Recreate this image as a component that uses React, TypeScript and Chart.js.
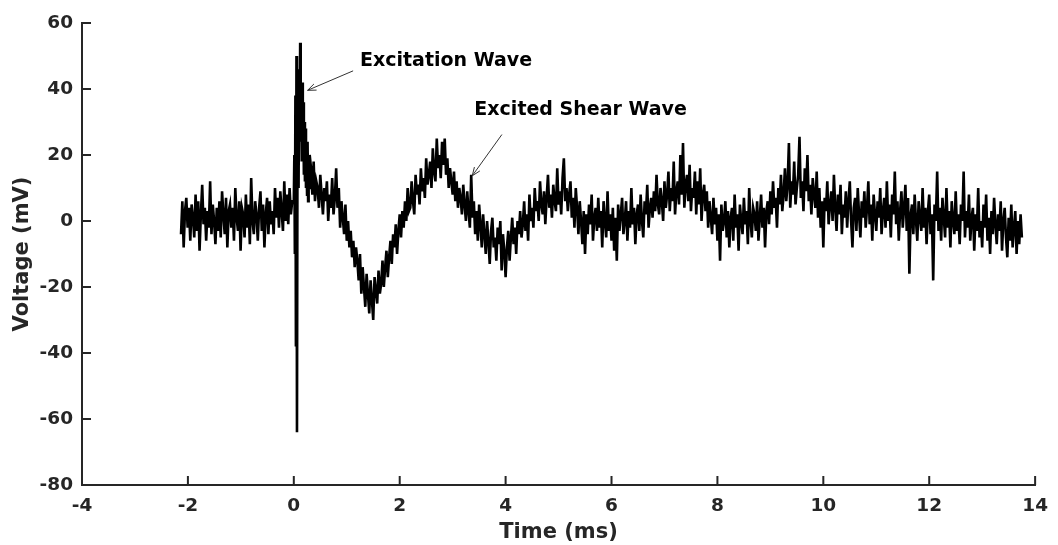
import React, { useEffect, useRef } from "react";
import { Chart, registerables } from "chart.js";

Chart.register(...registerables);

// ---- data (ms, mV) ----
const BASELINE_START = -2.13;
const BASELINE_STEP = 0.025;
const BASELINE = [
  -4, 6, -8, 3, 7, -2, 4, -6, 5, 1,
  -5, 8, -3, 6, -9, 2, 11, -1, 4, -6,
  3, -2, 12, -4, 5, 0, -7, 4, -3, 6,
  -5, 9, 2, -4, 7, -8, 3, 5, -2, 4,
  -6, 10, 1, -3, 6, -9, 4, 2, -5, 8,
  -2, 5, -7, 13, 0, -4, 6, 2, -6, 4,
  9, -3, 5, -8, 2, 7, -4, 6, -1, 3,
  -4, 10, 1, 7, -2, 9, 3, -3, 12, 0,
  8, -1, 10, 2, 6,
];

const EXCITATION_START = 0.0;
const EXCITATION_STEP = 0.01;
const EXCITATION = [
  6, 20, -10, 38, -38, 50, -64, 30, 44, 10,
  46, 24, 54, 28, 40, 18, 42, 20, 36, 14,
  30, 12, 28, 10, 22, 8, 24, 6, 18, 10,
  20,
];

const SHEAR_START = 0.325;
const SHEAR_STEP = 0.025;
const SHEAR = [
  16, 8, 18, 6, 12, 10, 4, 14, 8, 2,
  10, 6, 12, 0, 8, 4, 13, 2, 7, 16,
  4, 10, -2, 6, 1, -4, 5, -6, 0, -8,
  -3, -11, -6, -14, -8, -12, -18, -10, -22, -14,
  -20, -26, -16, -22, -28, -18, -24, -30, -17, -21,
  -25, -15, -22, -19, -12, -20, -14, -9, -17, -11,
  -6, -13, -4, -8, -1, -10, -3, 2, -5, 3,
  -2, 6, 0, 10, 3, 4, 12, 6, 2, 14,
  8, 11, 5, 16, 9, 13, 7, 19, 11, 14,
  18, 10, 22, 15, 12, 25, 16, 20, 13, 24,
  17, 25, 14, 19, 10, 16, 12, 8, 15, 6,
  12, 4, 10, 7, 2, 11, 5, 0, 9, 3,
  -2, 14, 1, 6, -4, 3, -6, 5, -1, -8,
  2, -4, -10, 0, -6, -13, -3, 1, -8, -5,
  -12, -2, -7, 0, -15, -4, -9, -17,
];

const TAIL_START = 4.025;
const TAIL_STEP = 0.025;
const TAIL = [
  -8, -3, -12, -5, 1, -7, -2, -10, 0, -4,
  3, -5, -1, 6, -3, 2, -6, 8, 0, 4,
  -2, 10, 3, 6, 0, 12, 5, 2, 9, -1,
  7, 14, 4, 8, 1, 11, 6, 3, 16, 5,
  9, 2, 13, 19, 6, 10, 3, 8, 12, 1,
  7, -2, 10, 4, -4, 6, 0, -7, 3, -10,
  2, -4, 5, -1, 8, -6, 1, 4, -3, 7,
  -2, 3, -8, 6, 0, -5, 9, -3, 2, -6,
  4, -9, 1, -12, 5, -3, 2, 7, -4, 0,
  6, -6, 3, -2, 10, -1, 4, -7, 2, 5,
  -3, 8, 0, -5, 6, 2, 11, -2, 4, 7,
  1, 9, 3, 14, 5, 2, 10, 6, 0, 12,
  4, 8, 15, 3, 10, 6, 18, 2, 9, 12,
  5, 20, 8, 23.6, 4, 11, 14, 6, 17, 3,
  10, 7, 15, 2, 12, 5, 16, 0, 8, 11,
  3, 9, -2, 6, 1, -4, 7, -1, 4, -6,
  2, -12, 5, -3, 0, 6, -5, 3, -8, 1,
  4, -6, 8, -2, 2, -9, 5, 0, -4, 7,
  -1, 3, -7, 10, 0, -5, 4, 2, -3, 6,
  -6, 1, 8, -2, 4, -8, 3, 6, -1, 9,
  2, 12, 4, 7, -2, 10, 5, 14, 3, 8,
  16, 6, 11, 23.6, 4, 12, 8, 18, 5, 10,
  14, 25.5, 7, 12, 3, 16, 9, 20, 6, 11,
  2, 13, 8, 4, 15, 1, 10, -2, 6, -8,
  7, 3, 12, -1, 5, 9, 0, 14, 4, -3,
  8, 2, 11, -4, 5, 1, 9, -2, 6, 12,
  0, -8, 4, 7, -3, 10, 2, -5, 6, 1,
  9, -2, 4, 12, -1, 5, -6, 8, 2, -3,
  6, 1, 10, -4, 3, 7, -2, 12, 0, 5,
  -5, 8, 2, 15, -1, 6, -6, 3, 9, -2,
  4, 11, -3, 7, -16, 2, 5, -4, 8, 0,
  -6, 6, 1, -3, 10, -2, 4, -7, 3, 8,
  -4, 2, -18, 5, 0, 15, -3, 4, -6, 7,
  1, -5, 10, -2, 3, -8, 6, 0, -4, 9,
  -3, 2, -7, 5, 0, 15, -5, 3, -2, 8,
  -6, 1, 4, -9, 2, -3, 10, -5, 0, -8,
  5, -2, 8, -6, 1, -10, 3, -4, 7, -1,
  -7, 2, -3, 6, -9, 0, 4, -5, -11, 1,
  -6, 5, -8, -2, 3, -10, 0, -7, 2, -5,
];

const X_MIN = -4;
const X_MAX = 14;
const X_STEP = 2;
const Y_MIN = -80;
const Y_MAX = 60;
const Y_STEP = 20;

const X_TITLE = "Time (ms)";
const Y_TITLE = "Voltage (mV)";

// annotations: text anchor (left, middle) and arrow from -> to, in data units
const ANNOTATIONS = [
  { text: "Excitation Wave", x: 1.25, y: 48.6, from: [1.12, 45.5], to: [0.26, 39.6] },
  { text: "Excited Shear Wave", x: 3.41, y: 33.7, from: [3.93, 26.2], to: [3.37, 13.7] },
];

function segmentPoints(start: number, step: number, values: number[]) {
  return values.map((v, i) => ({ x: +(start + i * step).toFixed(4), y: v }));
}

const FONT = "'DejaVu Sans', Verdana, sans-serif";
const AXIS_COLOR = "#262626";

const inwardTicks = {
  id: "inwardTicks",
  afterDraw(chart: any) {
    const { ctx, chartArea, scales } = chart;
    const xs = scales.x;
    const ys = scales.y;
    ctx.save();
    ctx.strokeStyle = AXIS_COLOR;
    ctx.lineWidth = 2;
    ctx.beginPath();
    xs.ticks.forEach((t: any) => {
      const px = xs.getPixelForValue(t.value);
      ctx.moveTo(px, chartArea.bottom);
      ctx.lineTo(px, chartArea.bottom - 9);
    });
    ys.ticks.forEach((t: any) => {
      const py = ys.getPixelForValue(t.value);
      ctx.moveTo(chartArea.left, py);
      ctx.lineTo(chartArea.left + 9, py);
    });
    ctx.stroke();

    // annotations
    ANNOTATIONS.forEach((a) => {
      const tx = xs.getPixelForValue(a.x);
      const ty = ys.getPixelForValue(a.y);
      ctx.fillStyle = "#000";
      ctx.font = `bold 19px ${FONT}`;
      ctx.textAlign = "left";
      ctx.textBaseline = "middle";
      ctx.fillText(a.text, tx, ty);

      const x1 = xs.getPixelForValue(a.from[0]);
      const y1 = ys.getPixelForValue(a.from[1]);
      const x2 = xs.getPixelForValue(a.to[0]);
      const y2 = ys.getPixelForValue(a.to[1]);
      ctx.strokeStyle = "#333";
      ctx.lineWidth = 1;
      ctx.beginPath();
      ctx.moveTo(x1, y1);
      ctx.lineTo(x2, y2);
      const ang = Math.atan2(y2 - y1, x2 - x1);
      const hl = 9;
      const spread = 0.38;
      ctx.moveTo(x2, y2);
      ctx.lineTo(x2 - hl * Math.cos(ang - spread), y2 - hl * Math.sin(ang - spread));
      ctx.moveTo(x2, y2);
      ctx.lineTo(x2 - hl * Math.cos(ang + spread), y2 - hl * Math.sin(ang + spread));
      ctx.stroke();
    });
    ctx.restore();
  },
};

export default function App() {
  const ref = useRef<HTMLCanvasElement | null>(null);

  useEffect(() => {
    if (!ref.current) return;
    const data = [
      ...segmentPoints(BASELINE_START, BASELINE_STEP, BASELINE),
      ...segmentPoints(EXCITATION_START, EXCITATION_STEP, EXCITATION),
      ...segmentPoints(SHEAR_START, SHEAR_STEP, SHEAR),
      ...segmentPoints(TAIL_START, TAIL_STEP, TAIL),
    ];
    const chart = new Chart(ref.current, {
      type: "scatter",
      data: {
        datasets: [
          {
            data,
            showLine: true,
            borderColor: "#000",
            borderWidth: 2.6,
            pointRadius: 0,
            pointHoverRadius: 0,
            tension: 0,
          },
        ],
      },
      options: {
        responsive: false,
        animation: false,
        devicePixelRatio: 1,
        events: [],
        layout: { padding: { left: 0, top: 23, right: 15, bottom: 0 } },
        plugins: {
          legend: { display: false },
          tooltip: { enabled: false },
        },
        scales: {
          x: {
            type: "linear",
            min: X_MIN,
            max: X_MAX,
            afterFit: (s: any) => {
              s.height = 60;
            },
            ticks: {
              stepSize: X_STEP,
              color: AXIS_COLOR,
              font: { family: FONT, size: 18.5, weight: "bold" },
              padding: 10,
              maxRotation: 0,
              autoSkip: false,
            },
            grid: { display: false, drawTicks: false },
            border: { display: true, color: AXIS_COLOR, width: 2 },
            title: {
              display: true,
              text: X_TITLE,
              color: AXIS_COLOR,
              font: { family: FONT, size: 21, weight: "bold" },
              padding: { top: 0, bottom: 0 },
            },
          },
          y: {
            type: "linear",
            min: Y_MIN,
            max: Y_MAX,
            afterFit: (s: any) => {
              s.width = 82;
            },
            ticks: {
              stepSize: Y_STEP,
              color: AXIS_COLOR,
              font: { family: FONT, size: 18.5, weight: "bold" },
              padding: 9,
              autoSkip: false,
            },
            grid: { display: false, drawTicks: false },
            border: { display: true, color: AXIS_COLOR, width: 2 },
            title: {
              display: true,
              text: Y_TITLE,
              color: AXIS_COLOR,
              font: { family: FONT, size: 21, weight: "bold" },
              padding: { top: 10, bottom: 0 },
            },
          },
        },
      },
      plugins: [inwardTicks],
    } as any);
    return () => chart.destroy();
  }, []);

  return (
    <div
      style={{
        position: "fixed",
        left: 0,
        top: 0,
        width: 1058,
        height: 545,
        background: "#fff",
      }}
    >
      <canvas ref={ref} width={1058} height={545} style={{ display: "block" }} />
    </div>
  );
}
